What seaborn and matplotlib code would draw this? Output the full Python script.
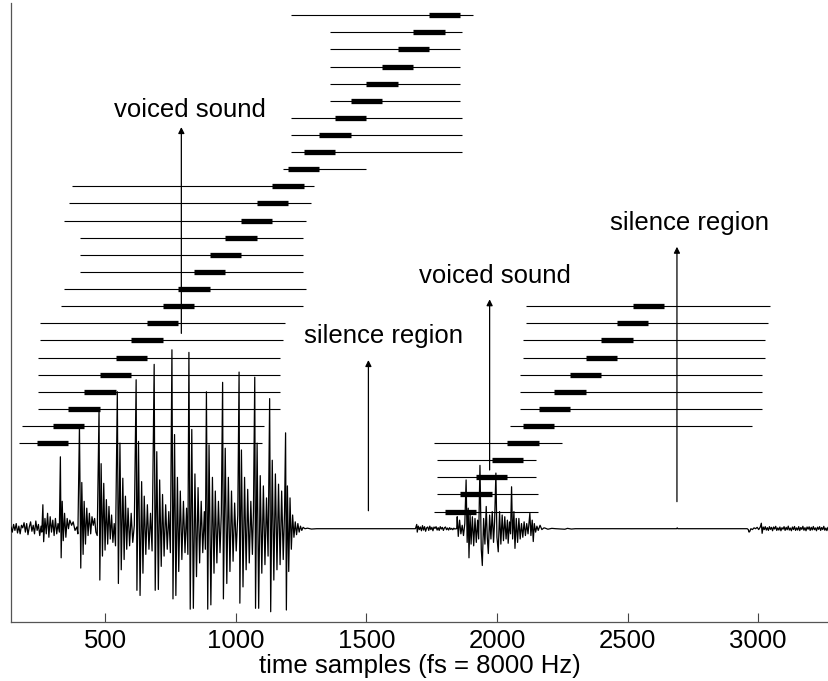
import matplotlib
matplotlib.use("Agg")
import matplotlib.pyplot as plt
import seaborn as sns
import pandas as pd
import numpy as np

# ---------------- data ----------------
# analysis frames, first voiced segment (frame start sample, search range lo/hi)
seg1_frame_start = [240, 300, 360, 420, 480, 540, 600, 660, 720, 780, 840, 900, 960,
                    1020, 1080, 1140, 1200, 1260, 1320, 1380, 1440, 1500, 1560, 1620, 1680, 1740]
seg1_range_lo = [172, 182, 242, 242, 242, 242, 251, 251, 332, 342, 403, 403, 403,
                 342, 362, 373, 1182, 1211, 1211, 1211, 1361, 1361, 1361, 1361, 1361, 1211]
seg1_range_hi = [1100, 1110, 1170, 1170, 1170, 1170, 1180, 1189, 1259, 1268, 1259, 1259, 1259,
                 1268, 1288, 1299, 1498, 1867, 1867, 1867, 1859, 1859, 1859, 1859, 1867, 1907]
# analysis frames, second voiced segment
seg2_frame_start = [1800, 1860, 1920, 1980, 2040, 2100, 2160, 2220, 2280, 2340, 2400, 2460, 2520]
seg2_range_lo = [1760, 1771, 1771, 1771, 1760, 2050, 2089, 2089, 2089, 2100, 2100, 2110, 2110]
seg2_range_hi = [2158, 2158, 2148, 2148, 2248, 2976, 3015, 3015, 3015, 3026, 3026, 3036, 3046]
frame_len = 120

# speech waveform (sample index, amplitude)
wave_pre = [(140, 0.1), (145, -0.2), (150, 0.25), (155, -0.1), (160, 0.3), (165, -0.25), (170, 0.15),
            (175, -0.3), (180, 0.2), (185, 0.05), (190, 0.35), (195, -0.2), (200, 0.3), (205, -0.35),
            (210, 0.1), (215, 0.4), (220, -0.15), (225, 0.2), (230, -0.3), (235, 0.45), (240, -0.1),
            (245, 0.25), (250, -0.4), (255, 0.15), (258, -0.2), (262, 1.4), (265, -0.76), (270, 0.6),
            (275, -0.3), (280, 0.9), (285, -0.5), (290, 0.7), (295, -0.2), (300, 0.5), (305, -0.4),
            (310, 0.6), (315, -0.3), (320, 0.3), (325, -0.2)]
wave_voiced1 = [
    (329, 4.2), (332, -1.7), (336, 1.6), (340, -0.7), (345, 0.9), (350, -0.5), (355, 0.6), (360, 0.0),
    (365, 0.5), (372, 0.2), (378, 0.4), (385, -0.1), (392, 0.1), (396, -0.3),
    (402, 6.0), (407, -2.3), (411, 2.7), (416, -1.5), (420, 1.6), (425, -0.9), (430, 1.2), (435, -0.4),
    (440, 0.9), (445, -0.3), (450, 0.7), (455, 0.2), (460, 0.6), (465, -0.2), (470, -0.4),
    (477, 7.0), (480, -3.0), (485, 3.8), (490, -1.6), (495, 2.65), (500, -1.25), (505, 1.7), (510, -0.9),
    (515, 1.3), (520, -0.6), (525, 0.8), (530, -0.8), (535, 0.3), (540, -1.0),
    (547, 8.0), (551, -3.2), (557, 5.0), (562, -2.4), (568, 2.95), (573, -1.8), (578, 1.9), (583, -1.2),
    (588, 1.2), (594, -1.0), (600, 0.9), (606, -0.8), (612, 0.2),
    (619, 8.7), (622, -3.6), (628, 5.1), (634, -3.9), (640, 2.75), (645, -2.6), (650, 1.9), (656, -1.5),
    (662, 1.4), (668, -1.2), (674, 0.9), (680, -1.3),
    (688, 9.6), (692, -3.6), (698, 4.5), (704, -3.55), (709, 2.85), (715, -2.2), (720, 2.0), (726, -1.6),
    (732, 1.4), (738, -1.2), (744, 1.0), (750, -1.4),
    (756, 10.45), (760, -4.1), (766, 5.5), (771, -3.9), (777, 3.0), (782, -2.5), (788, 2.2), (794, -1.8),
    (800, 1.6), (806, -1.4), (812, 1.2), (817, -1.5),
    (821, 10.3), (826, -4.7), (832, 5.8), (838, -4.65), (844, 3.2), (850, -2.8), (856, 2.4), (862, -2.0),
    (868, 1.6), (874, -1.4), (880, 1.0), (884, -1.2),
    (888, 8.0), (893, -4.7), (898, 4.9), (905, -4.45), (911, 3.0), (917, -2.6), (922, 2.2), (928, -2.0),
    (934, 1.6), (940, -1.4), (945, 0.9),
    (950, 8.55), (953, -4.1), (960, 4.7), (966, -3.2), (972, 3.0), (978, -2.5), (984, 2.2), (990, -1.9),
    (996, 1.5), (1002, -1.3), (1008, 0.8),
    (1013, 9.15), (1016, -4.35), (1022, 4.6), (1028, -3.4), (1034, 3.0), (1040, -2.4), (1046, 2.3),
    (1052, -2.0), (1058, 1.6), (1064, -1.5), (1068, 1.0),
    (1073, 8.85), (1076, -4.65), (1082, 5.0), (1088, -4.65), (1094, 3.1), (1100, -2.6), (1106, 2.5),
    (1112, -2.1), (1118, 1.8), (1124, -1.6),
    (1130, 7.6), (1134, -4.85), (1140, 4.0), (1146, -3.0), (1152, 3.2), (1158, -2.4), (1164, 2.6),
    (1170, -2.1), (1176, 2.2), (1182, -1.8), (1187, 1.0),
    (1191, 5.6), (1194, -4.75), (1198, 2.5), (1203, -2.5), (1208, 1.8), (1213, -1.2), (1218, 0.8),
    (1223, -0.5), (1228, 0.4), (1233, -0.35), (1238, 0.3), (1243, -0.2), (1248, 0.15), (1253, -0.1),
    (1258, 0.08), (1265, 0.0)]
wave_gap1 = [(1275, 0.03), (1290, -0.02), (1310, 0.0), (1400, 0.0), (1500, 0.0), (1600, 0.0), (1688, 0.0)]
wave_noise1 = [(1693, 0.25), (1695, -0.2), (1699, 0.15), (1703, -0.05), (1707, 0.1), (1711, -0.12),
               (1715, 0.18), (1719, -0.08), (1723, 0.12), (1727, -0.15), (1731, 0.05), (1735, 0.1),
               (1739, -0.1), (1743, 0.15), (1747, -0.05), (1751, 0.08), (1755, -0.12), (1759, 0.1),
               (1763, 0.02), (1767, 0.12), (1771, -0.08), (1775, 0.06), (1779, -0.1), (1783, 0.12),
               (1787, -0.02), (1791, 0.08), (1795, -0.1), (1799, 0.05), (1803, 0.1), (1807, -0.06),
               (1811, 0.04), (1815, -0.08), (1819, 0.06), (1823, -0.04), (1827, 0.02), (1831, -0.06),
               (1835, 0.03), (1839, -0.02), (1843, 0.0)]
wave_voiced2 = [
    (1846, 0.0), (1848, 0.7), (1852, -0.45), (1857, 0.5), (1862, -0.3), (1867, 0.2), (1872, -0.4), (1877, 0.3),
    (1882, 2.85), (1886, -0.8), (1890, 1.2), (1893, -1.7), (1897, 0.9), (1901, -0.9), (1906, 0.7),
    (1911, -1.0), (1916, 0.6), (1921, -0.8), (1926, 0.5), (1930, -0.6),
    (1935, 3.7), (1940, -1.2), (1944, -2.15), (1949, 0.6), (1954, -0.9), (1959, 1.3), (1963, -0.5),
    (1967, -1.45), (1972, 0.8), (1977, -0.6), (1982, 1.0), (1987, -0.8), (1991, 0.4),
    (1996, 3.25), (2000, -0.5), (2005, -1.35), (2010, 1.0), (2015, -0.9), (2020, 0.8), (2025, -0.7),
    (2030, 0.7), (2035, -0.6), (2040, 0.5), (2043, -0.85), (2048, 0.4), (2052, -0.3),
    (2056, 2.45), (2060, -0.6), (2065, 1.0), (2069, -1.15), (2074, 0.6), (2079, -0.8), (2084, 0.6),
    (2089, -0.6), (2094, 0.3), (2099, -0.5), (2104, 0.4), (2109, -0.4), (2114, 0.3), (2119, -0.3),
    (2126, 0.9), (2130, -0.4), (2135, 0.5), (2139, -0.75), (2143, 0.3), (2148, -0.2), (2153, 0.15),
    (2158, -0.1), (2165, 0.2), (2172, -0.05), (2180, 0.05)]
wave_gap2 = [(2185, 0.03), (2195, -0.03), (2210, 0.02), (2225, 0.0), (2260, -0.03), (2270, 0.02),
             (2285, -0.02), (2300, 0.0), (2400, 0.0), (2500, 0.0), (2600, 0.0), (2688, 0.0), (2690, 0.05),
             (2692, 0.0), (2800, 0.0), (2900, 0.0), (2958, 0.0)]
wave_noise2 = [(2962, -0.05), (2965, -0.2), (2968, -0.15), (2972, 0.0), (2978, -0.05), (2984, 0.05),
               (2990, 0.0), (2996, 0.08), (3002, -0.05), (3008, 0.1), (3012, 0.32), (3015, -0.27),
               (3019, 0.1), (3023, -0.05), (3027, 0.12), (3031, -0.08), (3035, 0.06), (3039, -0.1),
               (3043, 0.12), (3047, -0.04), (3051, 0.08), (3055, -0.12), (3059, 0.1), (3063, -0.02),
               (3067, 0.14), (3071, -0.1), (3075, 0.05), (3079, -0.08), (3083, 0.1), (3087, -0.12),
               (3091, 0.06), (3095, -0.03), (3099, 0.12), (3103, -0.1), (3107, 0.08), (3111, -0.06),
               (3115, 0.15), (3119, -0.08), (3123, 0.04), (3127, -0.12), (3131, 0.1), (3135, -0.05),
               (3139, 0.13), (3143, -0.1), (3147, 0.05), (3151, -0.08), (3155, 0.12), (3159, -0.11),
               (3163, 0.07), (3167, -0.04), (3171, 0.14), (3175, -0.09), (3179, 0.06), (3183, -0.12),
               (3187, 0.1), (3191, -0.03), (3195, 0.11), (3199, -0.1), (3203, 0.08), (3207, -0.07),
               (3211, 0.13), (3215, -0.06), (3219, 0.05), (3223, -0.12), (3227, 0.09), (3231, -0.04),
               (3235, 0.12), (3239, -0.1), (3243, 0.07), (3247, -0.05), (3251, 0.14), (3255, -0.09),
               (3259, 0.04), (3263, -0.11), (3267, 0.08), (3271, -0.05)]

# annotations: label, arrow x (sample), arrow base level, arrow tip level, text x, text baseline level
annot_labels = ["voiced sound", "silence region", "voiced sound", "silence region"]
annot_x = [792, 1508, 1972, 2689]
annot_base = [11.41, 1.05, 3.43, 1.58]
annot_tip = [23.46, 9.85, 13.4, 16.47]
annot_text_x = [824, 1566, 1992, 2738]
annot_text_y = [24.07, 10.83, 14.33, 17.45]

x_ticks = [500, 1000, 1500, 2000, 2500, 3000]
x_label = "time samples (fs = 8000 Hz)"

# ---------------- plot ----------------
sns.set_theme(style="white")
plt.rcParams["font.family"] = ["Liberation Sans", "DejaVu Sans"]

fig = plt.figure(figsize=(8.29, 6.81), dpi=100)
ax = fig.add_axes([11 / 829, 59 / 681, 818 / 829, 619 / 681])

wave = pd.DataFrame(wave_pre + wave_voiced1 + wave_gap1 + wave_noise1 + wave_voiced2 + wave_gap2 + wave_noise2,
                    columns=["t", "v"])
sns.lineplot(data=wave, x="t", y="v", ax=ax, color="black", lw=0.9, estimator=None, sort=False, zorder=3)

# frame rows
lvl1 = 5 + np.arange(len(seg1_frame_start))
lvl2 = 1 + np.arange(len(seg2_frame_start))
for lv, fs, lo, hi in [(lvl1, seg1_frame_start, seg1_range_lo, seg1_range_hi),
                       (lvl2, seg2_frame_start, seg2_range_lo, seg2_range_hi)]:
    fs = np.asarray(fs)
    ax.hlines(lv, lo, hi, color="black", lw=0.8, zorder=2)
    hc = ax.hlines(lv, fs, fs + frame_len, color="black", lw=3.8, zorder=2.5)
    hc.set_capstyle("butt")

for lab, ax_x, b, tp, tx, ty in zip(annot_labels, annot_x, annot_base, annot_tip, annot_text_x, annot_text_y):
    ax.annotate("", xy=(ax_x, tp), xytext=(ax_x, b),
                arrowprops=dict(arrowstyle="-|>", color="black", lw=0.9, mutation_scale=9,
                                shrinkA=0, shrinkB=0), zorder=4)
    ax.text(tx, ty, lab, ha="center", va="baseline", fontsize=18.5, color="black")

ax.set_xlim(140, 3271)
ax.set_ylim(-5.45, 30.71)
ax.set_xticks(x_ticks)
ax.set_xticklabels([str(v) for v in x_ticks])
ax.set_yticks([])
ax.set_xlabel(x_label, fontsize=18.5, labelpad=1, color="black")
ax.set_ylabel("")
ax.tick_params(axis="x", direction="in", length=6.3, width=0.8, color="#444444",
               labelsize=18.5, pad=5, labelcolor="black", bottom=True)
for s in ["top", "right"]:
    ax.spines[s].set_visible(False)
for s in ["left", "bottom"]:
    ax.spines[s].set_visible(True)
    ax.spines[s].set_color("#555555")
    ax.spines[s].set_linewidth(0.9)
ax.set_facecolor("white")
fig.patch.set_facecolor("white")

fig.savefig("out.png", dpi=100, facecolor="white")
